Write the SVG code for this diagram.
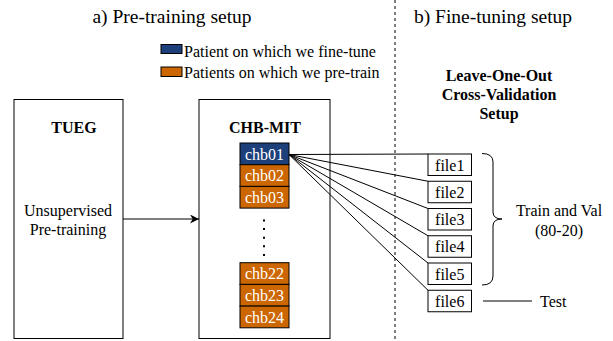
<svg xmlns="http://www.w3.org/2000/svg" width="613" height="341" viewBox="0 0 613 341">
<defs>
<style>
text{fill:#000}
.t16{font-size:16px}
.b16{font-size:16px;font-weight:bold}
.title{font-size:19.5px}
.box{fill:#fff;stroke:#000;stroke-width:1}
.chb{stroke:#000;stroke-width:1}
.blue{fill:#1d3f7a}
.orange{fill:#cc6600}
.wt{fill:#fff;font-size:16px}
.ln{fill:none;stroke:#000;stroke-width:1}
</style>
<marker id="arr" viewBox="0 0 10 10" refX="10" refY="5" markerWidth="9" markerHeight="9" markerUnits="userSpaceOnUse" orient="auto">
<path d="M0,0 L10,5 L0,10 L3,5 z" fill="#000"/>
</marker>
</defs>
<rect width="613" height="341" fill="#fff"/>
<g font-family="Liberation Serif, Times New Roman, Times, serif">
<g id="titles">
<text class="title" x="172" y="23" text-anchor="middle">a) Pre-training setup</text>
<text class="title" x="493" y="23" text-anchor="middle">b) Fine-tuning setup</text>
</g>

<line x1="395" y1="0" x2="395" y2="341" stroke="#000" stroke-width="1" stroke-dasharray="3 3"/>

<g id="legend">
<rect x="161" y="44.5" width="21" height="9" class="chb blue"/>
<text class="t16" x="184" y="57">Patient on which we fine-tune</text>
<rect x="161" y="67" width="21" height="9.5" class="chb orange"/>
<text class="t16" x="184" y="78">Patients on which we pre-train</text>
</g>

<g id="loocv-label">
<text class="b16" x="499" y="81" text-anchor="middle">Leave-One-Out</text>
<text class="b16" x="499" y="100" text-anchor="middle">Cross-Validation</text>
<text class="b16" x="499" y="119" text-anchor="middle">Setup</text>
</g>

<g id="tueg">
<rect x="14" y="99.5" width="109" height="239" class="box"/>
<text class="b16" x="74" y="133" text-anchor="middle">TUEG</text>
<text class="t16" x="68" y="216" text-anchor="middle">Unsupervised</text>
<text class="t16" x="68" y="234.5" text-anchor="middle">Pre-training</text>
</g>

<g id="chbmit">
<rect x="199" y="99.5" width="131" height="239" class="box"/>
<text class="b16" x="265" y="133" text-anchor="middle">CHB-MIT</text>
</g>

<g id="chb01"><rect x="240" y="143" width="49" height="21.7" class="chb blue"/><text class="wt" x="264.5" y="159.5" text-anchor="middle">chb01</text></g>
<g id="chb02"><rect x="240" y="164.7" width="49" height="21.7" class="chb orange"/><text class="wt" x="264.5" y="181.2" text-anchor="middle">chb02</text></g>
<g id="chb03"><rect x="240" y="186.4" width="49" height="21.7" class="chb orange"/><text class="wt" x="264.5" y="202.9" text-anchor="middle">chb03</text></g>
<g id="chb22"><rect x="240" y="262.7" width="49" height="21.7" class="chb orange"/><text class="wt" x="264.5" y="279.2" text-anchor="middle">chb22</text></g>
<g id="chb23"><rect x="240" y="284.4" width="49" height="21.7" class="chb orange"/><text class="wt" x="264.5" y="300.9" text-anchor="middle">chb23</text></g>
<g id="chb24"><rect x="240" y="306.1" width="49" height="21.7" class="chb orange"/><text class="wt" x="264.5" y="322.6" text-anchor="middle">chb24</text></g>

<g id="file1"><rect x="428" y="154" width="43.5" height="21.5" class="box"/><text class="t16" x="449.75" y="170.5" text-anchor="middle">file1</text></g>
<g id="file2"><rect x="428" y="181.25" width="43.5" height="21.5" class="box"/><text class="t16" x="449.75" y="197.75" text-anchor="middle">file2</text></g>
<g id="file3"><rect x="428" y="208.5" width="43.5" height="21.5" class="box"/><text class="t16" x="449.75" y="225" text-anchor="middle">file3</text></g>
<g id="file4"><rect x="428" y="235.75" width="43.5" height="21.5" class="box"/><text class="t16" x="449.75" y="252.25" text-anchor="middle">file4</text></g>
<g id="file5"><rect x="428" y="263" width="43.5" height="21.5" class="box"/><text class="t16" x="449.75" y="279.5" text-anchor="middle">file5</text></g>
<g id="file6"><rect x="428" y="290.25" width="43.5" height="21.5" class="box"/><text class="t16" x="449.75" y="306.75" text-anchor="middle">file6</text></g>

<g id="labels">
<text class="t16" x="559" y="216" text-anchor="middle">Train and Val</text>
<text class="t16" x="559" y="236" text-anchor="middle">(80-20)</text>
<text class="t16" x="540" y="307">Test</text>
</g>

<g id="connectors">
<line x1="123" y1="219" x2="199" y2="219" class="ln" marker-end="url(#arr)"/>
<line x1="264" y1="219.5" x2="264" y2="262" stroke="#000" stroke-width="2" stroke-dasharray="2 6.6"/>
<path class="ln" d="M289,154.5 L428,154 M289,154.5 L428,181.25 M289,154.5 L428,208.5 M289,154.5 L428,235.75 M289,154.5 L428,263 M289,154.5 L428,290.25"/>
<path class="ln" d="M482,153.5 Q493,153.5 493,162 L493,212 Q493,219 502,219 Q493,219 493,226 L493,276 Q493,285 482,285"/>
<line x1="483" y1="301" x2="532" y2="301" class="ln"/>
</g>
</g>
</svg>
